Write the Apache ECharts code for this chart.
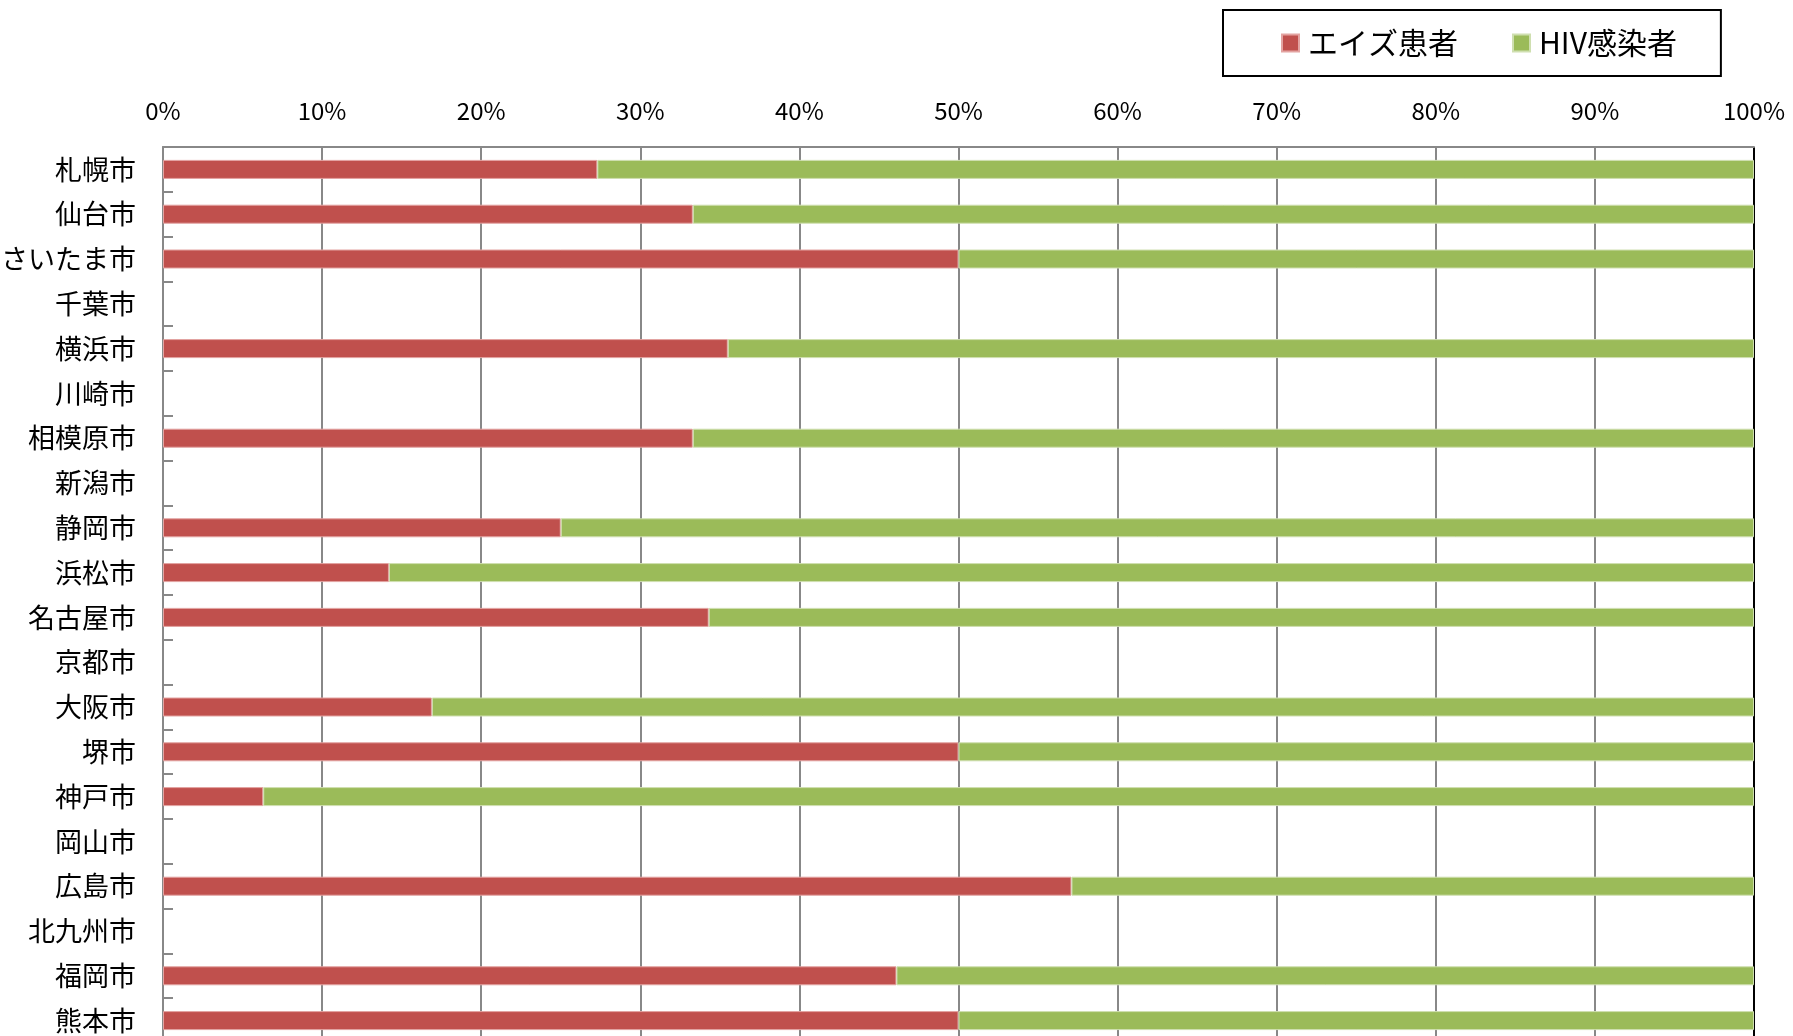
<!DOCTYPE html>
<html>
<head>
<meta charset="utf-8">
<script src="https://cdn.jsdelivr.net/npm/echarts@6/dist/echarts.min.js"></script>
<style>
html,body{margin:0;padding:0;background:#fff;}
#chart{width:1793px;height:1036px;}
</style>
</head>
<body>
<div id="chart"></div>
<script>
const categories = ['札幌市','仙台市','さいたま市','千葉市','横浜市','川崎市','相模原市','新潟市','静岡市','浜松市','名古屋市','京都市','大阪市','堺市','神戸市','岡山市','広島市','北九州市','福岡市','熊本市'];
const aidsPatients = [27.3, 33.3, 50, null, 35.5, null, 33.3, null, 25, 14.2, 34.3, null, 16.9, 50, 6.3, null, 57.1, null, 46.1, 50];
const hivInfected  = [72.7, 66.7, 50, null, 64.5, null, 66.7, null, 75, 85.8, 65.7, null, 83.1, 50, 93.7, null, 42.9, null, 53.9, 50];
const seriesNames = ['エイズ患者', 'HIV感染者'];

const FONT = '"Noto Sans CJK JP", "Noto Sans", sans-serif';
const chart = echarts.init(document.getElementById('chart'), null, {renderer: 'canvas'});
const gridColors = ['#888','#888','#888','#888','#888','#888','#888','#888','#888','#888','#000'];
chart.setOption({
  animation: false,
  backgroundColor: '#fff',
  textStyle: {fontFamily: FONT},
  legend: {
    data: seriesNames,
    left: 1223, top: 10,
    padding: [18, 44, 18, 58],
    borderColor: '#000', borderWidth: 2,
    itemWidth: 17, itemHeight: 17, itemGap: 54,
    icon: 'rect',
    textStyle: {fontSize: 30, color: '#000', fontFamily: FONT, padding: [0, 0, 0, 4]}
  },
  grid: {left: 163, right: 39, top: 147, height: 896, containLabel: false, outerBoundsMode: 'none'},
  xAxis: {
    type: 'value', position: 'top', min: 0, max: 100, interval: 10,
    axisLine: {show: true, lineStyle: {color: '#888', width: 2}},
    axisTick: {show: false},
    axisLabel: {formatter: '{value}%', fontSize: 24, color: '#000', margin: 24, fontFamily: FONT},
    splitLine: {show: true, lineStyle: {color: gridColors, width: 2}}
  },
  yAxis: {
    type: 'category', inverse: true, data: categories,
    axisLine: {show: true, lineStyle: {color: '#888', width: 2}},
    axisTick: {show: true, inside: true, length: 10, lineStyle: {color: '#888', width: 2}},
    axisLabel: {fontSize: 27, color: '#000', margin: 27, fontFamily: FONT},
    splitLine: {show: false}
  },
  series: [
    {name: seriesNames[0], type: 'bar', stack: 'total', data: aidsPatients, barWidth: 19,
     itemStyle: {color: '#C0504D', borderColor: '#E3A3A1', borderWidth: 1}},
    {name: seriesNames[1], type: 'bar', stack: 'total', data: hivInfected, barWidth: 19,
     itemStyle: {color: '#9BBB59', borderColor: '#CFDFB0', borderWidth: 1}}
  ]
});
</script>
</body>
</html>
